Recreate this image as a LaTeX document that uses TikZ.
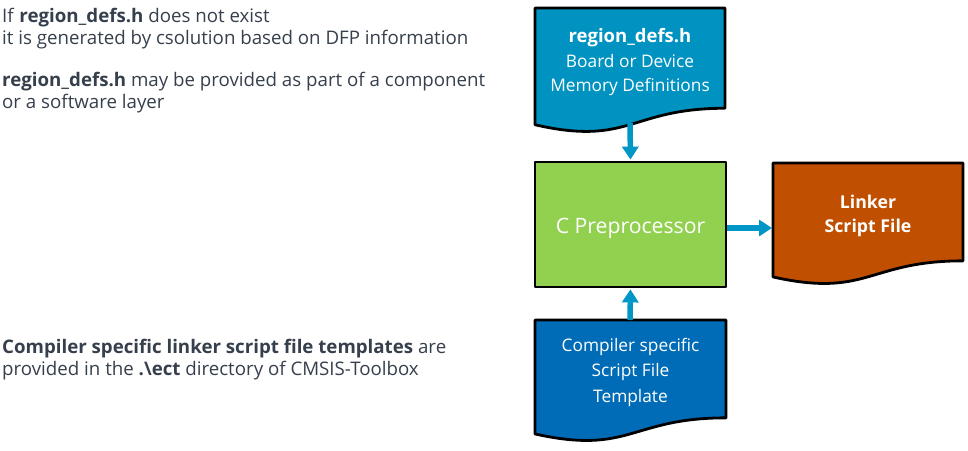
\documentclass[tikz,border=0pt]{standalone}
\usepackage{fontspec}
\setmainfont{Open Sans}
\usetikzlibrary{arrows.meta,backgrounds}
\definecolor{txtgray}{HTML}{363F4C}
\definecolor{docteal}{HTML}{0093C1}
\definecolor{docblue}{HTML}{006CB7}
\definecolor{docorange}{HTML}{C05000}
\definecolor{prepgreen}{HTML}{92D050}
\definecolor{arrowblue}{HTML}{0096C6}
\tikzset{
  shapeline/.style={draw=black, line width=2.8pt, line join=round},
  inner/.style={text=white, align=center, inner sep=0pt, font=\fontsize{17.3}{24.5}\selectfont},
  note/.style={text=txtgray, align=left, anchor=north west, inner sep=0pt, font=\fontsize{18.7}{22}\selectfont},
  flow/.style={draw=arrowblue, line width=5.5pt, -{Triangle[length=13pt,width=16pt]}, shorten >=1pt},
}
% \docshape{x}{y}{w}{h}{colour}
\newcommand{\docshape}[5]{%
  \path[shapeline, fill=#5] (#1,#2) -- ({#1+#3},#2) -- ({#1+#3},{#2+0.802*#4})
    .. controls ({#1+0.5*#3},{#2+0.802*#4}) and ({#1+0.5*#3},{#2+1.1075*#4}) .. (#1,{#2+0.934*#4}) -- cycle;}
\begin{document}
\begin{tikzpicture}[x=1pt,y=-1pt]
\useasboundingbox (0,0) rectangle (968,450);
% left notes
\node[note] (n1) at (2,8) {If \textbf{region\_defs.h} does not exist\\it is generated by csolution based on DFP information};
\node[note] (n2) at (2,72) {\textbf{region\_defs.h} may be provided as part of a component\\or a software layer};
\node[note] (n3) at (2,339) {\textbf{Compiler specific linker script file templates} are\\provided in the \textbf{.\textbackslash ect} directory of CMSIS-Toolbox};
% shapes
\docshape{535}{8}{190}{125}{docteal}
\docshape{773}{163}{190}{122}{docorange}
\docshape{535}{320}{191}{122}{docblue}
\node[shapeline, fill=prepgreen, minimum width=191pt, minimum height=125pt, inner sep=0pt] (cp) at (630.5,224.5) {};
\node[inner] (rd) at (630,62) {{\fontsize{18.5}{24.5}\selectfont\bfseries region\_defs.h}\\Board or Device\\Memory Definitions};
\node[inner] (cpt) at (630.5,228) {\fontsize{21.2}{26}\selectfont C Preprocessor};
\node[inner, font=\fontsize{17.7}{24}\selectfont\bfseries] (ls) at (868,216) {Linker\\Script File};
\node[inner, font=\fontsize{17.3}{25.5}\selectfont] (tp) at (630.5,372) {Compiler specific\\Script File\\Template};
\coordinate (rdb) at (630,123);
\coordinate (tpt) at (630,320);
\coordinate (lsl) at (773,228);
% connectors
\draw[flow] (rdb) -- (cp.north);
\draw[flow] (tpt) -- (cp.south);
\draw[flow] (cp.east |- lsl) -- (lsl);
\end{tikzpicture}
\end{document}
